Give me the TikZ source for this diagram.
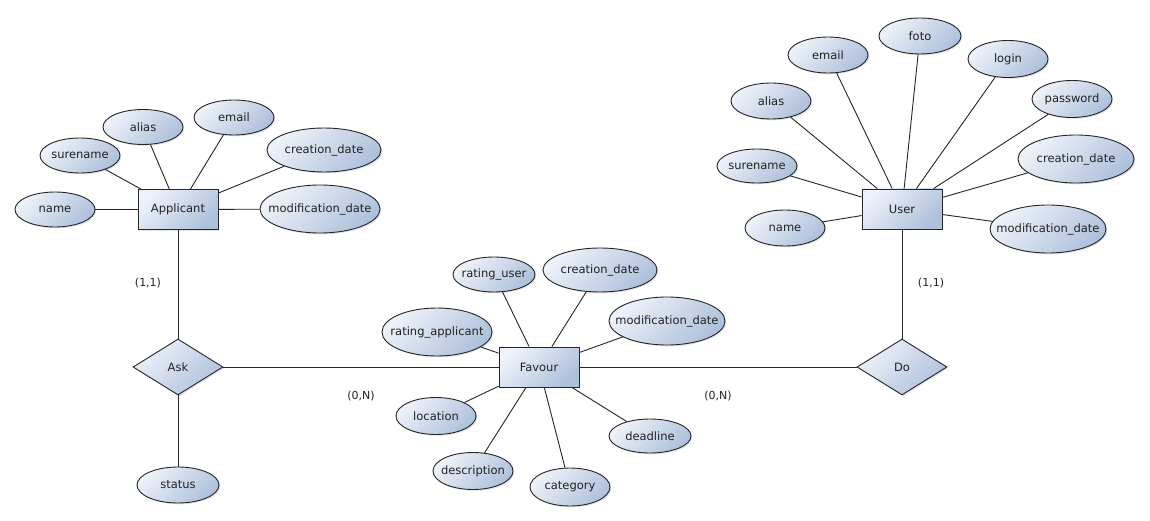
\documentclass[tikz,border=0pt]{standalone}
\usepackage{fontspec}
\setmainfont{DejaVu Sans}
\usetikzlibrary{shapes.geometric,shadows}
\definecolor{erline}{HTML}{262626}
\definecolor{erlight}{HTML}{EEF2F9}
\definecolor{erdark}{HTML}{AEC1DC}
\definecolor{ertext}{HTML}{222222}
% zero-width label so the shape size comes from minimum width/height only
\newcommand\zw[1]{\makebox[0pt]{#1}}
\begin{document}
\begin{tikzpicture}[x=1pt,y=-1pt,
  base/.style={draw=erline, line width=0.9pt, top color=erlight, bottom color=erdark,
    shading angle=45, inner sep=0pt, text=ertext, font=\fontsize{11.5}{13}\selectfont,
    drop shadow={opacity=0.22, shadow xshift=1.3pt, shadow yshift=-1.3pt}},
  attr/.style={base, ellipse, minimum width=80pt, minimum height=35pt},
  sz/.style 2 args={minimum width=#1pt, minimum height=#2pt},
  entity/.style={base, rectangle, minimum width=80pt, minimum height=40pt},
  rel/.style={base, diamond, minimum width=90pt, minimum height=56pt},
  card/.style={text=ertext, font=\fontsize{11}{13}\selectfont, inner sep=0pt},
  link/.style={draw=erline, line width=0.9pt}]
\fill[white] (0,0) rectangle (1150,521);
\useasboundingbox (0,0) rectangle (1150,521);

% entities and relationships
\node[entity] (app) at (178,209.5) {\zw{Applicant}};
\node[entity] (fav) at (539,367) {\zw{Favour}};
\node[entity] (usr) at (902,209) {\zw{User}};
\node[rel] (ask) at (178,367) {\zw{Ask}};
\node[rel] (do) at (902,367) {\zw{Do}};

% Applicant attributes
\node[attr] (a1) at (55,209.5) {\zw{name}};
\node[attr] (a2) at (80,155.5) {\zw{surename}};
\node[attr] (a3) at (143,127) {\zw{alias}};
\node[attr] (a4) at (234,117.5) {\zw{email}};
\node[attr, sz={114}{44}] (a5) at (324,150) {\zw{creation\_date}};
\node[attr, sz={120}{48}] (a6) at (320,209) {\zw{modification\_date}};

% Ask attribute
\node[attr, sz={82}{36}] (s1) at (178,485) {\zw{status}};

% Favour attributes
\node[attr, sz={82}{35}] (f1) at (494,274.5) {\zw{rating\_user}};
\node[attr, sz={114}{44}] (f2) at (600,270) {\zw{creation\_date}};
\node[attr, sz={116}{48}] (f3) at (667,321) {\zw{modification\_date}};
\node[attr, sz={110}{48}] (f4) at (437,332) {\zw{rating\_applicant}};
\node[attr, sz={80}{37}] (f5) at (436,416) {\zw{location}};
\node[attr, sz={80}{37}] (f6) at (473,471) {\zw{description}};
\node[attr, sz={80}{38}] (f7) at (570,487) {\zw{category}};
\node[attr, sz={82}{34}] (f8) at (650,436) {\zw{deadline}};

% User attributes
\node[attr, sz={80}{36}] (u1) at (785,228) {\zw{name}};
\node[attr, sz={80}{34}] (u2) at (757,166) {\zw{surename}};
\node[attr, sz={80}{36}] (u3) at (771,101) {\zw{alias}};
\node[attr, sz={80}{36}] (u4) at (828,55) {\zw{email}};
\node[attr, sz={82}{36}] (u5) at (920,36) {\zw{foto}};
\node[attr, sz={80}{37}] (u6) at (1008,59) {\zw{login}};
\node[attr, sz={80}{37}] (u7) at (1072,99) {\zw{password}};
\node[attr, sz={116}{48}] (u8) at (1076,159) {\zw{creation\_date}};
\node[attr, sz={116}{48}] (u9) at (1048,229) {\zw{modification\_date}};

% connectors
\foreach \n in {a1,a2,a3,a4,a5,a6} \draw[link] (app) -- (\n);
\foreach \n in {f1,f2,f3,f4,f5,f6,f7,f8} \draw[link] (fav) -- (\n);
\foreach \n in {u1,u2,u3,u4,u5,u6,u7,u8,u9} \draw[link] (usr) -- (\n);
\draw[link] (app) -- (ask);
\draw[link] (ask) -- (s1);
\draw[link] (ask) -- (fav);
\draw[link] (fav) -- (do);
\draw[link] (do) -- (usr);

% cardinalities
\node[card] (c1) at (148,283) {(1,1)};
\node[card] (c2) at (361,396) {(0,N)};
\node[card] (c3) at (718,396) {(0,N)};
\node[card] (c4) at (931,283) {(1,1)};
\end{tikzpicture}
\end{document}
